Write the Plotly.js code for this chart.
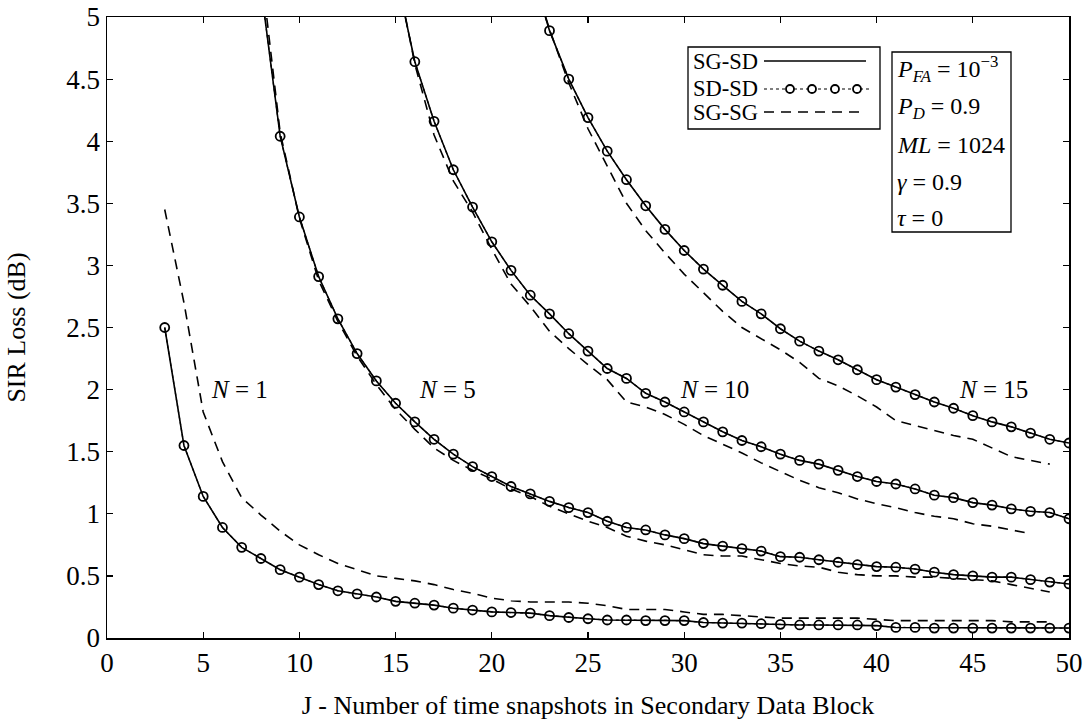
<!DOCTYPE html>
<html>
<head>
<meta charset="utf-8">
<script src="https://cdn.plot.ly/plotly-3.0.1.min.js"></script>
<style>html,body{margin:0;padding:0;background:#fff;}#chart{width:1085px;height:727px;}</style>
</head>
<body>
<div id="chart"></div>
<script>
// ---- Data (J = number of time snapshots, values = SIR loss in dB) ----
// SG-SD (solid) and SD-SD (circles) coincide in the reference
const jN1 = [3,4,5,6,7,8,9,10,11,12,13,14,15,16,17,18,19,20,21,22,23,24,25,26,27,28,29,30,31,32,33,34,35,36,37,38,39,40,41,42,43,44,45,46,47,48,49,50];
const sgsdN1 = [2.50,1.55,1.14,0.89,0.73,0.64,0.55,0.49,0.43,0.38,0.355,0.33,0.295,0.28,0.265,0.24,0.225,0.21,0.205,0.20,0.18,0.165,0.155,0.145,0.145,0.14,0.14,0.14,0.125,0.12,0.12,0.115,0.11,0.105,0.105,0.105,0.105,0.10,0.085,0.085,0.08,0.08,0.08,0.08,0.08,0.08,0.08,0.08];

const jN5 = [8,9,10,11,12,13,14,15,16,17,18,19,20,21,22,23,24,25,26,27,28,29,30,31,32,33,34,35,36,37,38,39,40,41,42,43,44,45,46,47,48,49,50];
const sgsdN5 = [5.24,4.04,3.39,2.91,2.57,2.29,2.07,1.89,1.74,1.60,1.48,1.38,1.30,1.22,1.16,1.10,1.05,1.01,0.94,0.89,0.87,0.83,0.80,0.76,0.74,0.72,0.70,0.655,0.65,0.63,0.61,0.59,0.575,0.57,0.555,0.53,0.51,0.50,0.49,0.49,0.47,0.45,0.435];

const jN10 = [15,16,17,18,19,20,21,22,23,24,25,26,27,28,29,30,31,32,33,34,35,36,37,38,39,40,41,42,43,44,45,46,47,48,49,50];
const sgsdN10 = [5.36,4.64,4.16,3.77,3.47,3.19,2.96,2.76,2.61,2.45,2.31,2.17,2.09,1.97,1.90,1.82,1.74,1.66,1.59,1.54,1.48,1.43,1.40,1.35,1.30,1.26,1.24,1.20,1.15,1.13,1.09,1.07,1.04,1.02,1.01,0.96];

const jN15 = [22,23,24,25,26,27,28,29,30,31,32,33,34,35,36,37,38,39,40,41,42,43,44,45,46,47,48,49,50];
const sgsdN15 = [5.40,4.89,4.50,4.19,3.92,3.69,3.48,3.29,3.12,2.97,2.84,2.71,2.61,2.49,2.39,2.31,2.24,2.16,2.08,2.02,1.96,1.90,1.85,1.79,1.74,1.70,1.65,1.60,1.57];

// SD-SD (read as the same points as SG-SD)
const sdsdN1 = sgsdN1, sdsdN5 = sgsdN5, sdsdN10 = sgsdN10, sdsdN15 = sgsdN15;

// SG-SG (dashed)
const jDashN1 = [3,4,5,6,7,8,9,10,11,12,13,14,15,16,17,18,19,20,21,22,23,24,25,26,27,28,29,30,31,32,33,34,35,36,37,38,39,40,41,42,43,44,45,46,47,48,49];
const sgsgN1 = [3.45,2.70,1.82,1.42,1.13,0.99,0.86,0.75,0.67,0.60,0.55,0.50,0.48,0.46,0.43,0.39,0.36,0.32,0.30,0.29,0.29,0.29,0.28,0.26,0.23,0.23,0.23,0.21,0.19,0.19,0.18,0.17,0.16,0.16,0.16,0.16,0.16,0.15,0.14,0.14,0.14,0.14,0.14,0.14,0.13,0.13,0.13];

const jDashN5 = [8,9,10,11,12,13,14,15,16,17,18,19,20,21,22,23,24,25,26,27,28,29,30,31,32,33,34,35,36,37,38,39,40,41,42,43,44,45,46,47,48,49];
const sgsgN5 = [5.40,4.07,3.38,2.88,2.55,2.27,2.04,1.84,1.68,1.53,1.43,1.35,1.28,1.20,1.14,1.06,1.00,0.94,0.89,0.82,0.78,0.75,0.71,0.67,0.66,0.66,0.63,0.60,0.58,0.57,0.53,0.51,0.50,0.50,0.49,0.49,0.48,0.47,0.46,0.43,0.40,0.37];

const jDashN10 = [15,16,17,18,19,20,21,22,23,24,25,26,27,28,29,30,31,32,33,34,35,36,37,38,39,40,41,42,43,44,45,46,47,48];
const sgsgN10 = [5.40,4.62,4.05,3.68,3.43,3.13,2.85,2.67,2.47,2.33,2.20,2.08,1.90,1.86,1.80,1.72,1.63,1.56,1.49,1.41,1.34,1.27,1.21,1.17,1.12,1.08,1.05,1.01,0.98,0.96,0.92,0.90,0.87,0.84];

const jDashN15 = [22,23,24,25,26,27,28,29,30,31,32,33,34,35,36,37,38,39,40,41,42,43,44,45,46,47,48,49];
const sgsgN15 = [5.40,4.90,4.47,4.10,3.80,3.50,3.28,3.10,2.93,2.78,2.63,2.50,2.41,2.32,2.22,2.09,2.03,1.95,1.86,1.75,1.71,1.67,1.63,1.60,1.53,1.46,1.43,1.40];

// curve labels
const curveLabels = ['<i>N</i> = 1','<i>N</i> = 5','<i>N</i> = 10','<i>N</i> = 15'];
const curveLabelJ = [6.9, 17.7, 31.6, 46.1];
const curveLabelV = [2.0, 2.0, 2.0, 2.0];

const legendNames = ['SG-SD','SD-SD','SG-SG'];
const paramLines = ['<i>P</i><sub><i>FA</i></sub> = 10<sup>−3</sup>','<i>P</i><sub><i>D</i></sub> = 0.9','<i>ML</i> = 1024','<i>γ</i> = 0.9','<i>τ</i> = 0'];

const xTitle = 'J - Number of time snapshots in Secondary Data Block';
const yTitle = 'SIR Loss (dB)';

// ---- styling ----
const FONT = '"Liberation Serif", "Times New Roman", serif';
const DASH = '10px,7px';
const groups = [
  [jN1, sgsdN1, sdsdN1, jDashN1, sgsgN1],
  [jN5, sgsdN5, sdsdN5, jDashN5, sgsgN5],
  [jN10, sgsdN10, sdsdN10, jDashN10, sgsgN10],
  [jN15, sgsdN15, sdsdN15, jDashN15, sgsgN15]
];
const traces = [];
groups.forEach((g, i) => {
  traces.push({x: g[3], y: g[4], type: 'scatter', mode: 'lines', name: legendNames[2], showlegend: false,
    line: {color: '#000', width: 1.6, dash: DASH}});
  traces.push({x: g[0], y: g[1], type: 'scatter', mode: 'lines', name: legendNames[0], showlegend: false,
    line: {color: '#000', width: 1.6}});
  traces.push({x: g[0], y: g[2], type: 'scatter', mode: 'lines+markers', name: legendNames[1], showlegend: false,
    line: {color: '#000', width: 1.2, dash: 'dot'},
    marker: {symbol: 'circle-open', size: 9, color: '#000', line: {width: 1.8, color: '#000'}}});
});

// pixel -> paper helpers for decoration placement
const L = 107, R = 1069, T = 17, B = 638;
const PX = p => (p - L) / (R - L);
const PY = p => (B - p) / (B - T);

const shapes = [
  {type: 'rect', xref: 'paper', yref: 'paper', x0: PX(688), x1: PX(880), y0: PY(129), y1: PY(47), line: {color: '#000', width: 1.3}, fillcolor: '#fff', layer: 'above'},
  {type: 'rect', xref: 'paper', yref: 'paper', x0: PX(892), x1: PX(1011), y0: PY(232), y1: PY(52), line: {color: '#000', width: 1.3}, fillcolor: '#fff', layer: 'above'},
  {type: 'line', xref: 'paper', yref: 'paper', x0: PX(764), x1: PX(866), y0: PY(61), y1: PY(61), line: {color: '#000', width: 1.6}, layer: 'above'},
  {type: 'line', xref: 'paper', yref: 'paper', x0: PX(764), x1: PX(870), y0: PY(89), y1: PY(89), line: {color: '#000', width: 1.2, dash: 'dot'}, layer: 'above'},
  {type: 'line', xref: 'paper', yref: 'paper', x0: PX(764), x1: PX(866), y0: PY(112), y1: PY(112), line: {color: '#000', width: 1.6, dash: DASH}, layer: 'above'}
];
[790, 812, 835, 857].forEach(cx => {
  shapes.push({type: 'circle', xref: 'paper', yref: 'paper', xsizemode: 'pixel', ysizemode: 'pixel',
    xanchor: PX(cx), yanchor: PY(89), x0: -4, x1: 4, y0: -4, y1: 4,
    line: {color: '#000', width: 1.8}, fillcolor: '#fff', layer: 'above'});
});

const annotations = [];
[62, 89, 112].forEach((py, i) => {
  annotations.push({xref: 'paper', yref: 'paper', x: PX(691), y: PY(py), xanchor: 'left', yanchor: 'middle',
    text: legendNames[i], showarrow: false, font: {family: FONT, size: 22.5, color: '#000'}});
});
[69, 108, 145, 182, 218].forEach((py, i) => {
  annotations.push({xref: 'paper', yref: 'paper', x: PX(895), y: PY(py), xanchor: 'left', yanchor: 'middle',
    text: paramLines[i], showarrow: false, font: {family: FONT, size: 24, color: '#000'}});
});
curveLabels.forEach((t, i) => {
  annotations.push({xref: 'x', yref: 'y', x: curveLabelJ[i], y: curveLabelV[i], xanchor: 'center', yanchor: 'middle',
    text: t, showarrow: false, font: {family: FONT, size: 25, color: '#000'}});
});

const axisCommon = {
  showgrid: false, zeroline: false, showline: true, linecolor: '#000', linewidth: 1.5, mirror: 'ticks',
  ticks: 'inside', ticklen: 6, tickwidth: 1.2, tickcolor: '#000',
  tickfont: {family: FONT, size: 27, color: '#000'}, automargin: false
};

const layout = {
  width: 1085, height: 727,
  margin: {l: L, r: 1085 - R, t: T, b: 727 - B},
  paper_bgcolor: '#fff', plot_bgcolor: '#fff',
  showlegend: false,
  font: {family: FONT, color: '#000'},
  xaxis: Object.assign({}, axisCommon, {range: [0, 50], dtick: 5, tick0: 0,
    title: {text: xTitle, font: {family: FONT, size: 26, color: '#000'}, standoff: 19}}),
  yaxis: Object.assign({}, axisCommon, {range: [0, 5], dtick: 0.5, tick0: 0, ticklabelstandoff: 0,
    title: {text: yTitle, font: {family: FONT, size: 26, color: '#000'}, standoff: 33}}),
  shapes: shapes,
  annotations: annotations
};

Plotly.newPlot('chart', traces, layout, {displayModeBar: false, staticPlot: true});
</script>
</body>
</html>
